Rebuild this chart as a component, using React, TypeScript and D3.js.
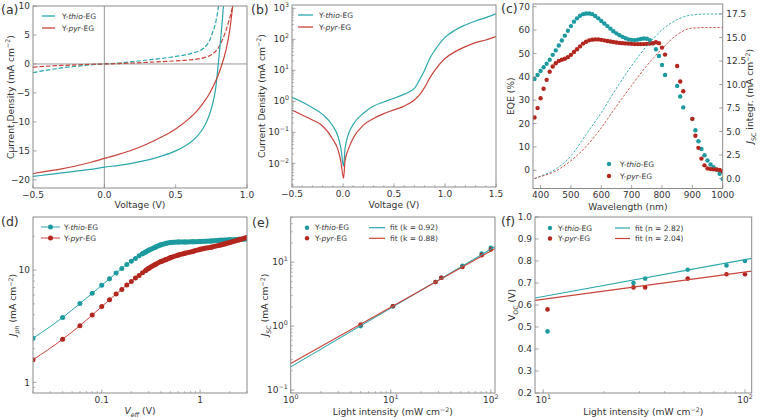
import React from 'react';
import * as d3 from 'd3';

const TEAL = '#2aa7ad';
const TEAL_DOT = '#1c9aa0';
const RED = '#c9433a';
const RED_DOT = '#b3261e';
const AX = '#8a8a8a';
const TXT = '#333';
const FONT = 'DejaVu Sans, sans-serif';
const FS = 9;
const LBL = 9.2;
const LFS = 7.5;

// (a) J-V, light (solid) and dark (dashed)
const vLight = [-0.5, -0.4, -0.3, -0.2, -0.1, 0, 0.1, 0.2, 0.3, 0.4, 0.5, 0.6, 0.65, 0.7, 0.73, 0.76, 0.78, 0.8, 0.82, 0.84, 0.86, 0.88, 0.9, 0.92];
const lightThio = [-19.4, -19.1, -18.8, -18.5, -18.2, -17.8, -17.5, -17.1, -16.6, -15.9, -15.0, -13.6, -12.5, -10.8, -9.2, -6.8, -4.3, 0.3, 5.5, 11.5, 17, 24, 31, 38];
const lightPyr = [-18.9, -18.5, -18.1, -17.6, -17.0, -16.3, -15.6, -14.8, -13.8, -12.6, -11.2, -9.3, -8.1, -6.5, -5.4, -4.0, -3.0, -1.8, -0.4, 1.2, 3.2, 6.0, 10.0, 14.0];
const vDark = [-0.5, -0.4, -0.3, -0.2, -0.1, 0, 0.1, 0.2, 0.3, 0.4, 0.5, 0.6, 0.7, 0.75, 0.8, 0.85, 0.9, 0.95];
const darkThio = [-1.5, -1.05, -0.68, -0.4, -0.16, 0, 0.17, 0.4, 0.68, 0.95, 1.3, 1.75, 2.8, 4.8, 10, 24, 44, 70];
const darkPyr = [-0.55, -0.38, -0.26, -0.16, -0.06, 0, 0.065, 0.17, 0.28, 0.4, 0.53, 0.7, 1.1, 1.6, 2.8, 5.6, 10, 16];

// (b) |J| dark, log scale
const vB = [-0.5, -0.4, -0.3, -0.2, -0.1, -0.05, -0.02, 0.005, 0.02, 0.05, 0.1, 0.2, 0.3, 0.4, 0.5, 0.6, 0.7, 0.75, 0.8, 0.85, 0.9, 1.0, 1.1, 1.2, 1.3, 1.4, 1.5];
const logThio = [1.35, 0.95, 0.62, 0.38, 0.16, 0.075, 0.03, 0.008, 0.03, 0.08, 0.18, 0.41, 0.7, 0.95, 1.25, 1.7, 2.6, 4.9, 10, 24, 44, 115, 200, 290, 390, 500, 660];
const logPyr = [0.52, 0.36, 0.25, 0.16, 0.06, 0.028, 0.011, 0.0033, 0.012, 0.027, 0.065, 0.17, 0.28, 0.4, 0.53, 0.7, 1.1, 1.6, 2.8, 5.6, 10, 24, 40, 58, 78, 95, 122];

// (c) EQE (left axis) and integrated Jsc (right axis)
const wl = d3.range(380, 1001, 10);
const eqeThio = [39.1, 40.8, 42.5, 44.1, 45.6, 47.3, 49.4, 51.3, 53.4, 55.5, 57.6, 59.7, 61.7, 63.6, 65.0, 66.1, 66.8, 67.1, 67.1, 66.8, 66.0, 65.0, 63.9, 62.8, 61.7, 60.6, 59.5, 58.6, 57.8, 57.1, 56.5, 56.0, 55.8, 55.7, 55.9, 56.2, 56.4, 56.3, 55.7, 54.3, 51.8, 48.9, 45.1, 40.8, null, null, null, 36.1, 31.6, 26.9, null, null, 22.0, 17.1, 12.4, 9.1, 6.4, 4.2, 2.5, 1.3, 0.2, -1.5, -3.7];
const eqePyr = [22.6, 26.6, 30.8, 34.9, 38.7, 42.2, 44.4, 45.8, 46.8, 47.3, 47.7, 48.4, 49.4, 50.6, 51.8, 53.0, 54.2, 55.0, 55.6, 55.9, 56.0, 56.0, 55.8, 55.6, 55.3, 55.1, 54.9, 54.7, 54.5, 54.4, 54.3, 54.2, 54.1, 54.0, 54.0, 54.0, 54.0, 54.1, 54.2, 54.4, 54.8, 54.4, 52.5, 49.5, null, null, null, 44.6, 38.0, 33.8, null, null, 22.0, 14.8, 9.6, 5.0, 2.1, 0.8, 0.5, 0.4, 0.3, 0.1, -0.4];
const wlInt = [380, 400, 450, 500, 550, 600, 650, 700, 750, 800, 850, 900, 950, 1000];
const intThio = [0, 0.25, 1.0, 2.4, 4.7, 7.0, 9.6, 12.0, 14.1, 15.8, 16.9, 17.4, 17.5, 17.5];
const intPyr = [0, 0.2, 0.8, 1.9, 3.4, 5.4, 7.7, 9.9, 12.0, 13.8, 15.3, 16.0, 16.05, 16.05];

// (d) Jph vs Veff
const vEff = [0.02, 0.04, 0.06, 0.08, 0.1, 0.12, 0.14, 0.16, 0.18, 0.2, 0.22, 0.24, 0.26, 0.28, 0.3, 0.35, 0.4, 0.45, 0.5, 0.6, 0.7, 0.85, 1.0, 1.3, 1.6, 2.0, 2.5, 3.0];
const jphThio = [2.47, 3.78, 5.03, 6.21, 7.31, 8.38, 9.4, 10.35, 11.2, 12.0, 12.7, 13.4, 14.0, 14.5, 15.0, 16.0, 16.8, 17.3, 17.6, 17.8, 17.8, 17.9, 18.0, 18.2, 18.4, 18.6, 18.8, 18.9];
const jphPyr = [1.59, 2.42, 3.2, 3.98, 4.73, 5.45, 6.12, 6.73, 7.36, 7.93, 8.49, 8.97, 9.47, 9.93, 10.35, 11.2, 11.9, 12.4, 12.9, 13.6, 14.1, 14.7, 15.3, 16.0, 16.7, 17.6, 18.6, 19.5];

// (e) Jsc vs light intensity
const intE = [5, 10.5, 28, 32, 52, 81, 100];
const jscThio = [1.0, 2.05, 4.9, 5.7, 8.8, 13.7, 16.8];
const jscPyr = [1.06, 2.05, 4.9, 5.7, 8.4, 12.9, 15.8];
const fitXE = [1, 110];
const fitThioE = [0.23, 17.4];
const fitPyrE = [0.26, 16.3];

// (f) Voc vs light intensity
const intF = [10.5, 28, 32, 52, 81, 100];
const vocThio = [0.48, 0.7, 0.72, 0.76, 0.78, 0.8];
const vocPyr = [0.58, 0.68, 0.68, 0.72, 0.74, 0.74];
const fitXF = [9.1, 108];
const fitThioF = [0.632, 0.812];
const fitPyrF = [0.621, 0.754];

type Box = { x0: number; x1: number; y0: number; y1: number };
type Scale = (v: number) => number;

const sup = (base: string, e: string) => (
  <>
    {base}
    <tspan dy={-4} fontSize={6.3}>{e}</tspan>
  </>
);
const minus = (v: number, dig: number) => (v < 0 ? '−' : '') + Math.abs(v).toFixed(dig);

function logMinor(lo: number, hi: number) {
  const out: number[] = [];
  for (let e = Math.floor(Math.log10(lo)); e <= Math.ceil(Math.log10(hi)); e++) {
    for (let k = 2; k <= 9; k++) {
      const v = k * Math.pow(10, e);
      if (v >= lo && v <= hi) out.push(v);
    }
  }
  return out;
}

function mkPath(sx: Scale, sy: Scale, xs: number[], ys: (number | null)[], curve: any = d3.curveMonotoneX) {
  return (
    d3
      .line<number | null>()
      .defined((d) => d != null)
      .x((_, i) => sx(xs[i]))
      .y((d) => sy(d as number))
      .curve(curve)(ys) || ''
  );
}

function Frame({ b }: { b: Box }) {
  return <rect x={b.x0} y={b.y0} width={b.x1 - b.x0} height={b.y1 - b.y0} fill="none" stroke={AX} strokeWidth={1} />;
}

function Clip({ id, b }: { id: string; b: Box }) {
  return (
    <clipPath id={id}>
      <rect x={b.x0} y={b.y0} width={b.x1 - b.x0} height={b.y1 - b.y0} />
    </clipPath>
  );
}

function XAxis({ s, b, ticks, fmt, minor = [] }: { s: Scale; b: Box; ticks: number[]; fmt: (v: number) => React.ReactNode; minor?: number[] }) {
  return (
    <g>
      {minor.map((t, i) => (
        <line key={'m' + i} x1={s(t)} x2={s(t)} y1={b.y1} y2={b.y1 - 2} stroke={AX} strokeWidth={0.6} />
      ))}
      {ticks.map((t, i) => (
        <g key={i}>
          <line x1={s(t)} x2={s(t)} y1={b.y1} y2={b.y1 - 3.5} stroke={AX} strokeWidth={0.8} />
          <text x={s(t)} y={b.y1 + 9.6} textAnchor="middle" fontSize={FS} fill={TXT}>
            {fmt(t)}
          </text>
        </g>
      ))}
    </g>
  );
}

function YAxis({ s, b, ticks, fmt, minor = [], right = false }: { s: Scale; b: Box; ticks: number[]; fmt: (v: number) => React.ReactNode; minor?: number[]; right?: boolean }) {
  const x = right ? b.x1 : b.x0;
  const dir = right ? -1 : 1;
  return (
    <g>
      {minor.map((t, i) => (
        <line key={'m' + i} x1={x} x2={x + dir * 2} y1={s(t)} y2={s(t)} stroke={AX} strokeWidth={0.6} />
      ))}
      {ticks.map((t, i) => (
        <g key={i}>
          <line x1={x} x2={x + dir * 3.5} y1={s(t)} y2={s(t)} stroke={AX} strokeWidth={0.8} />
          <text x={right ? x + 3.5 : x - 3} y={s(t) + 3.2} textAnchor={right ? 'start' : 'end'} fontSize={FS} fill={TXT}>
            {fmt(t)}
          </text>
        </g>
      ))}
    </g>
  );
}

function YLabel({ x, y, children }: { x: number; y: number; children: React.ReactNode }) {
  return (
    <text transform={`translate(${x},${y}) rotate(-90)`} textAnchor="middle" fontSize={LBL} fill={TXT}>
      {children}
    </text>
  );
}

function XLabel({ x, y, children }: { x: number; y: number; children: React.ReactNode }) {
  return (
    <text x={x} y={y} textAnchor="middle" fontSize={LBL} fill={TXT}>
      {children}
    </text>
  );
}

const cm2 = (
  <>
    (mA cm<tspan dy={-3.5} fontSize={6.3}>−2</tspan>
    <tspan dy={3.5}>)</tspan>
  </>
);

const Thio = () => (
  <>
    Y-<tspan fontStyle="italic">thio</tspan>-EG
  </>
);
const Pyr = () => (
  <>
    Y-<tspan fontStyle="italic">pyr</tspan>-EG
  </>
);

function PanelLabel({ x, y, t }: { x: number; y: number; t: string }) {
  return (
    <text x={x} y={y} fontSize={12.5} fill={TXT}>
      {t}
    </text>
  );
}

function PanelA() {
  const b: Box = { x0: 33, x1: 247, y0: 6, y1: 188 };
  const sx = d3.scaleLinear().domain([-0.5, 1.0]).range([b.x0, b.x1]);
  const sy = d3.scaleLinear().domain([-21.4, 10]).range([b.y1, b.y0]);
  return (
    <g>
      <Clip id="ca" b={b} />
      <g clipPath="url(#ca)">
        <line x1={b.x0} x2={b.x1} y1={sy(0)} y2={sy(0)} stroke="#8d8d8d" strokeWidth={0.9} />
        <line x1={sx(0)} x2={sx(0)} y1={b.y0} y2={b.y1} stroke="#8d8d8d" strokeWidth={0.9} />
        <path d={mkPath(sx, sy, vDark, darkThio)} fill="none" stroke={TEAL} strokeWidth={1.2} strokeDasharray="4.5,2" />
        <path d={mkPath(sx, sy, vDark, darkPyr)} fill="none" stroke={RED} strokeWidth={1.2} strokeDasharray="4.5,2" />
        <path d={mkPath(sx, sy, vLight, lightThio)} fill="none" stroke={TEAL} strokeWidth={1.2} />
        <path d={mkPath(sx, sy, vLight, lightPyr)} fill="none" stroke={RED} strokeWidth={1.2} />
      </g>
      <Frame b={b} />
      <XAxis s={sx} b={b} ticks={[-0.5, 0, 0.5, 1.0]} fmt={(v) => minus(v, 1)} />
      <YAxis s={sy} b={b} ticks={[10, 5, 0, -5, -10, -15, -20]} fmt={(v) => minus(v, 0)} />
      <YLabel x={13.5} y={(b.y0 + b.y1) / 2}>Current Density {cm2}</YLabel>
      <XLabel x={(b.x0 + b.x1) / 2} y={208}>Voltage (V)</XLabel>
      <g fontSize={LFS} fill={TXT}>
        <line x1={42} x2={55} y1={16} y2={16} stroke={TEAL} strokeWidth={1.3} />
        <text x={62} y={18.7}><Thio /></text>
        <line x1={42} x2={55} y1={28} y2={28} stroke={RED} strokeWidth={1.3} />
        <text x={62} y={30.7}><Pyr /></text>
      </g>
      <PanelLabel x={1} y={14} t="(a)" />
    </g>
  );
}

function PanelB() {
  const b: Box = { x0: 292, x1: 496, y0: 5, y1: 187 };
  const sx = d3.scaleLinear().domain([-0.5, 1.5]).range([b.x0, b.x1]);
  const sy = d3.scaleLog().domain([0.00172, 1277]).range([b.y1, b.y0]);
  const exps = [-2, -1, 0, 1, 2, 3];
  return (
    <g>
      <Clip id="cb" b={b} />
      <g clipPath="url(#cb)">
        <path d={mkPath(sx, sy, vB, logThio)} fill="none" stroke={TEAL} strokeWidth={1.2} />
        <path d={mkPath(sx, sy, vB, logPyr)} fill="none" stroke={RED} strokeWidth={1.2} />
      </g>
      <Frame b={b} />
      <XAxis s={sx} b={b} ticks={[-0.5, 0, 0.5, 1.0, 1.5]} fmt={(v) => minus(v, 1)} minor={d3.range(-0.4, 1.45, 0.1).filter((v) => Math.abs((v * 10) % 5) > 0.01)} />
      <YAxis s={sy} b={b} ticks={exps.map((e) => Math.pow(10, e))} fmt={(v) => sup('10', minus(Math.round(Math.log10(v)), 0))} minor={logMinor(0.00172, 1277)} />
      <YLabel x={264.5} y={(b.y0 + b.y1) / 2}>Current Density {cm2}</YLabel>
      <XLabel x={(b.x0 + b.x1) / 2} y={208}>Voltage (V)</XLabel>
      <g fontSize={LFS} fill={TXT}>
        <line x1={298} x2={313} y1={15} y2={15} stroke={TEAL} strokeWidth={1.3} />
        <text x={319} y={17.7}><Thio /></text>
        <line x1={298} x2={313} y1={27} y2={27} stroke={RED} strokeWidth={1.3} />
        <text x={319} y={29.7}><Pyr /></text>
      </g>
      <PanelLabel x={251} y={14} t="(b)" />
    </g>
  );
}

function PanelC() {
  const b: Box = { x0: 533, x1: 722.7, y0: 4, y1: 188.5 };
  const sx = d3.scaleLinear().domain([375, 1000]).range([b.x0, b.x1]);
  const sy = d3.scaleLinear().domain([-7.8, 71.15]).range([b.y1, b.y0]);
  const sy2 = d3.scaleLinear().domain([-1.06, 18.56]).range([b.y1, b.y0]);
  return (
    <g>
      <Clip id="cc" b={b} />
      <g clipPath="url(#cc)">
        {wl.map((w, i) =>
          eqeThio[i] == null ? null : <circle key={'t' + i} cx={sx(w)} cy={sy(eqeThio[i] as number)} r={2.2} fill={TEAL_DOT} />
        )}
        {wl.map((w, i) =>
          eqePyr[i] == null ? null : <circle key={'p' + i} cx={sx(w)} cy={sy(eqePyr[i] as number)} r={2.2} fill={RED_DOT} />
        )}
        <path d={mkPath(sx, sy2, wlInt, intThio)} fill="none" stroke={TEAL} strokeWidth={0.9} strokeDasharray="2.4,1.6" />
        <path d={mkPath(sx, sy2, wlInt, intPyr)} fill="none" stroke={RED} strokeWidth={0.9} strokeDasharray="2.4,1.6" />
      </g>
      <Frame b={b} />
      <XAxis s={sx} b={b} ticks={d3.range(400, 1001, 100)} fmt={(v) => String(v)} />
      <YAxis s={sy} b={b} ticks={d3.range(0, 71, 10)} fmt={(v) => String(v)} />
      <YAxis s={sy2} b={b} ticks={d3.range(0, 17.6, 2.5)} fmt={(v) => v.toFixed(1)} right />
      <YLabel x={513.5} y={(b.y0 + b.y1) / 2}>EQE (%)</YLabel>
      <YLabel x={753} y={(b.y0 + b.y1) / 2}>
        <tspan fontStyle="italic">J</tspan>
        <tspan dy={2.5} fontSize={6.3}>SC</tspan>
        <tspan dy={-2.5}> integr. </tspan>
        {cm2}
      </YLabel>
      <XLabel x={(b.x0 + b.x1) / 2} y={209.5}>Wavelength (nm)</XLabel>
      <g fontSize={LFS} fill={TXT}>
        <circle cx={609} cy={164} r={2.2} fill={TEAL_DOT} />
        <text x={620} y={166.7}><Thio /></text>
        <circle cx={609} cy={176} r={2.2} fill={RED_DOT} />
        <text x={620} y={178.7}><Pyr /></text>
      </g>
      <PanelLabel x={501} y={13} t="(c)" />
    </g>
  );
}

function PanelD() {
  const b: Box = { x0: 33, x1: 247, y0: 217, y1: 393 };
  const sx = d3.scaleLog().domain([0.02, 3]).range([b.x0, b.x1]);
  const sy = d3.scaleLog().domain([0.804, 29.7]).range([b.y1, b.y0]);
  const series = [
    { ys: jphThio, line: TEAL, dot: TEAL_DOT, from: 12 },
    { ys: jphPyr, line: RED, dot: RED_DOT, from: 13 },
  ];
  return (
    <g>
      <Clip id="cd" b={b} />
      <g clipPath="url(#cd)">
        {series.map((s, k) => (
          <g key={k}>
            <path d={mkPath(sx, sy, vEff, s.ys)} fill="none" stroke={s.line} strokeWidth={1} />
            <path d={mkPath(sx, sy, vEff.slice(s.from), s.ys.slice(s.from))} fill="none" stroke={s.dot} strokeWidth={5} strokeLinecap="round" />
            {vEff.map((v, i) => (
              <circle key={i} cx={sx(v)} cy={sy(s.ys[i])} r={2.5} fill={s.dot} />
            ))}
          </g>
        ))}
      </g>
      <Frame b={b} />
      <XAxis s={sx} b={b} ticks={[0.1, 1]} fmt={(v) => String(v)} minor={logMinor(0.02, 3)} />
      <YAxis s={sy} b={b} ticks={[1, 10]} fmt={(v) => String(v)} minor={logMinor(0.804, 29.7)} />
      <YLabel x={16} y={(b.y0 + b.y1) / 2}>
        <tspan fontStyle="italic">J</tspan>
        <tspan dy={2.5} fontSize={6.3} fontStyle="italic">ph</tspan>
        <tspan dy={-2.5}> </tspan>
        {cm2}
      </YLabel>
      <XLabel x={(b.x0 + b.x1) / 2} y={414}>
        <tspan fontStyle="italic">V</tspan>
        <tspan dy={2.5} fontSize={6.3} fontStyle="italic">eff</tspan>
        <tspan dy={-2.5}> (V)</tspan>
      </XLabel>
      <g fontSize={LFS} fill={TXT}>
        <line x1={41} x2={60} y1={227} y2={227} stroke={TEAL} strokeWidth={1} />
        <circle cx={50.5} cy={227} r={2.5} fill={TEAL_DOT} />
        <text x={64} y={229.7}><Thio /></text>
        <line x1={41} x2={60} y1={238} y2={238} stroke={RED} strokeWidth={1} />
        <circle cx={50.5} cy={238} r={2.5} fill={RED_DOT} />
        <text x={64} y={240.7}><Pyr /></text>
      </g>
      <PanelLabel x={1} y={226} t="(d)" />
    </g>
  );
}

function PanelE() {
  const b: Box = { x0: 290.7, x1: 495, y0: 217, y1: 393 };
  const sx = d3.scaleLog().domain([1, 110]).range([b.x0, b.x1]);
  const sy = d3.scaleLog().domain([0.0898, 51]).range([b.y1, b.y0]);
  return (
    <g>
      <Clip id="ce" b={b} />
      <g clipPath="url(#ce)">
        {intE.map((v, i) => (
          <circle key={'t' + i} cx={sx(v)} cy={sy(jscThio[i])} r={2.3} fill={TEAL_DOT} />
        ))}
        {intE.map((v, i) => (
          <circle key={'p' + i} cx={sx(v)} cy={sy(jscPyr[i])} r={2.3} fill={RED_DOT} />
        ))}
        <path d={mkPath(sx, sy, fitXE, fitThioE, d3.curveLinear)} fill="none" stroke={TEAL} strokeWidth={1.1} />
        <path d={mkPath(sx, sy, fitXE, fitPyrE, d3.curveLinear)} fill="none" stroke={RED} strokeWidth={1.1} />
      </g>
      <Frame b={b} />
      <XAxis s={sx} b={b} ticks={[1, 10, 100]} fmt={(v) => sup('10', String(Math.round(Math.log10(v))))} minor={logMinor(1, 110)} />
      <YAxis s={sy} b={b} ticks={[0.1, 1, 10]} fmt={(v) => sup('10', minus(Math.round(Math.log10(v)), 0))} minor={logMinor(0.0898, 51)} />
      <YLabel x={268} y={(b.y0 + b.y1) / 2}>
        <tspan fontStyle="italic">J</tspan>
        <tspan dy={2.5} fontSize={6.3} fontStyle="italic">SC</tspan>
        <tspan dy={-2.5}> </tspan>
        {cm2}
      </YLabel>
      <XLabel x={(b.x0 + b.x1) / 2} y={415}>
        Light intensity (mW cm<tspan dy={-3.5} fontSize={6.3}>−2</tspan>
        <tspan dy={3.5}>)</tspan>
      </XLabel>
      <g fontSize={LFS} fill={TXT}>
        <circle cx={307} cy={227.7} r={2.2} fill={TEAL_DOT} />
        <text x={315} y={230.4}><Thio /></text>
        <circle cx={307} cy={238.3} r={2.2} fill={RED_DOT} />
        <text x={315} y={241}><Pyr /></text>
        <line x1={369} x2={385} y1={227.7} y2={227.7} stroke={TEAL} strokeWidth={1.2} />
        <text x={390} y={230.4}>fit (k = 0.92)</text>
        <line x1={369} x2={385} y1={238.3} y2={238.3} stroke={RED} strokeWidth={1.2} />
        <text x={390} y={241}>fit (k = 0.88)</text>
      </g>
      <PanelLabel x={252} y={227} t="(e)" />
    </g>
  );
}

function PanelF() {
  const b: Box = { x0: 535, x1: 751.7, y0: 217, y1: 393 };
  const sx = d3.scaleLog().domain([9.1, 108]).range([b.x0, b.x1]);
  const sy = d3.scaleLinear().domain([0.2, 1.0]).range([b.y1, b.y0]);
  return (
    <g>
      <Clip id="cf" b={b} />
      <g clipPath="url(#cf)">
        {intF.map((v, i) => (
          <circle key={'t' + i} cx={sx(v)} cy={sy(vocThio[i])} r={2.3} fill={TEAL_DOT} />
        ))}
        {intF.map((v, i) => (
          <circle key={'p' + i} cx={sx(v)} cy={sy(vocPyr[i])} r={2.3} fill={RED_DOT} />
        ))}
        <path d={mkPath(sx, sy, fitXF, fitThioF, d3.curveLinear)} fill="none" stroke={TEAL} strokeWidth={1.1} />
        <path d={mkPath(sx, sy, fitXF, fitPyrF, d3.curveLinear)} fill="none" stroke={RED} strokeWidth={1.1} />
      </g>
      <Frame b={b} />
      <XAxis s={sx} b={b} ticks={[10, 100]} fmt={(v) => sup('10', String(Math.round(Math.log10(v))))} minor={logMinor(9.1, 108)} />
      <YAxis s={sy} b={b} ticks={d3.range(0.2, 1.01, 0.1)} fmt={(v) => v.toFixed(1)} />
      <YLabel x={515} y={(b.y0 + b.y1) / 2}>
        <tspan>V</tspan>
        <tspan dy={2.5} fontSize={6.3}>OC</tspan>
        <tspan dy={-2.5}> (V)</tspan>
      </YLabel>
      <XLabel x={(b.x0 + b.x1) / 2} y={415}>
        Light intensity (mW cm<tspan dy={-3.5} fontSize={6.3}>−2</tspan>
        <tspan dy={3.5}>)</tspan>
      </XLabel>
      <g fontSize={LFS} fill={TXT}>
        <circle cx={550} cy={228} r={2.2} fill={TEAL_DOT} />
        <text x={558} y={230.7}><Thio /></text>
        <circle cx={550} cy={238.5} r={2.2} fill={RED_DOT} />
        <text x={558} y={241.2}><Pyr /></text>
        <line x1={615} x2={630} y1={228} y2={228} stroke={TEAL} strokeWidth={1.2} />
        <text x={635} y={230.7}>fit (n = 2.82)</text>
        <line x1={615} x2={630} y1={238.5} y2={238.5} stroke={RED} strokeWidth={1.2} />
        <text x={635} y={241.2}>fit (n = 2.04)</text>
      </g>
      <PanelLabel x={501} y={226} t="(f)" />
    </g>
  );
}

export default function App() {
  return (
    <svg
      width={760}
      height={420}
      style={{ position: 'fixed', left: 0, top: 0, background: '#fff' }}
      fontFamily={FONT}
    >
      <rect width={760} height={420} fill="#fff" />
      <PanelA />
      <PanelB />
      <PanelC />
      <PanelD />
      <PanelE />
      <PanelF />
    </svg>
  );
}
